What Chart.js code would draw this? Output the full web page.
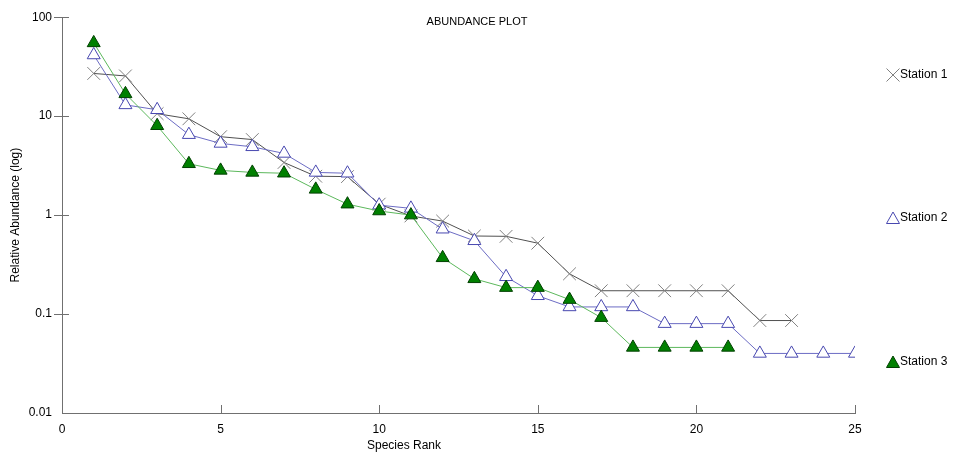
<!DOCTYPE html>
<html>
<head>
<meta charset="utf-8">
<script src="https://cdn.jsdelivr.net/npm/chart.js@4/dist/chart.umd.min.js"></script>
<style>
    html, body { margin: 0; padding: 0; background: #fff; }
    #wrap { width: 954px; height: 455px; position: relative; }
</style>
</head>
<body>
<div id="wrap"><canvas id="abundanceChart"></canvas></div>
<script>
// values (log scale)
const ranks = [1, 2, 3, 4, 5, 6, 7, 8, 9, 10, 11, 12, 13, 14, 15, 16, 17, 18, 19, 20, 21, 22, 23, 24, 25];
const station1 = [27, 25.5, 10.6, 9.4, 6.2, 5.8, 3.4, 2.47, 2.45, 1.29, 0.98, 0.87, 0.615, 0.61, 0.52, 0.255, 0.172, 0.172, 0.172, 0.172, 0.172, 0.086, 0.086];
const station2 = [41.5, 13, 11.6, 6.5, 5.3, 4.9, 4.2, 2.7, 2.65, 1.26, 1.17, 0.72, 0.55, 0.238, 0.153, 0.118, 0.118, 0.118, 0.08, 0.08, 0.08, 0.04, 0.04, 0.04, 0.04];
const station3 = [55, 16.8, 8.0, 3.3, 2.83, 2.7, 2.65, 1.82, 1.29, 1.1, 1.0, 0.37, 0.227, 0.185, 0.185, 0.14, 0.092, 0.046, 0.046, 0.046, 0.046];
const seriesNames = ["Station 1", "Station 2", "Station 3"];
const yTickValues = [0.01, 0.1, 1, 10, 100];
const xTickValues = [0, 5, 10, 15, 20, 25];

const FONT = "'Liberation Sans', Arial, sans-serif";

function toPoints(values) {
    return values.map((v, i) => ({ x: ranks[i], y: v }));
}

// title, x-axis title, inside tick marks and the right-hand legend
const extras = {
    id: "extras",
    afterDraw(chart) {
        const ctx = chart.ctx;
        const xs = chart.scales.x;
        const ys = chart.scales.y;
        const area = chart.chartArea;
        ctx.save();
        ctx.strokeStyle = "#707070";
        ctx.lineWidth = 1;
        xTickValues.forEach((v) => {
            if (v === 0) return;
            const px = Math.round(xs.getPixelForValue(v)) + 0.5;
            ctx.beginPath();
            ctx.moveTo(px, area.bottom);
            ctx.lineTo(px, area.bottom - 8);
            ctx.stroke();
        });
        yTickValues.forEach((v) => {
            if (v === 0.01) return;
            const py = Math.round(ys.getPixelForValue(v)) + 0.5;
            ctx.beginPath();
            ctx.moveTo(area.left - 8, py);
            ctx.lineTo(area.left + 7, py);
            ctx.stroke();
        });

        ctx.fillStyle = "#000";
        ctx.font = "11px " + FONT;
        ctx.textAlign = "center";
        ctx.textBaseline = "middle";
        ctx.fillText("ABUNDANCE PLOT", 477, 22);
        ctx.font = "12px " + FONT;
        ctx.fillText("Species Rank", 404, 446);

        // legend
        const legendY = [75, 218, 362];
        const lx = 893;
        // station 1: X
        ctx.strokeStyle = "#808080";
        ctx.beginPath();
        ctx.moveTo(lx - 6.5, legendY[0] - 6.5);
        ctx.lineTo(lx + 6.5, legendY[0] + 6.5);
        ctx.moveTo(lx + 6.5, legendY[0] - 6.5);
        ctx.lineTo(lx - 6.5, legendY[0] + 6.5);
        ctx.stroke();
        // station 2: open triangle
        ctx.strokeStyle = "#4848b0";
        ctx.fillStyle = "#fff";
        ctx.beginPath();
        ctx.moveTo(lx, legendY[1] - 6);
        ctx.lineTo(lx + 6.5, legendY[1] + 5.5);
        ctx.lineTo(lx - 6.5, legendY[1] + 5.5);
        ctx.closePath();
        ctx.fill();
        ctx.stroke();
        // station 3: filled triangle
        ctx.strokeStyle = "#004000";
        ctx.fillStyle = "#008000";
        ctx.beginPath();
        ctx.moveTo(lx, legendY[2] - 6);
        ctx.lineTo(lx + 6.5, legendY[2] + 5.5);
        ctx.lineTo(lx - 6.5, legendY[2] + 5.5);
        ctx.closePath();
        ctx.fill();
        ctx.stroke();

        ctx.fillStyle = "#000";
        ctx.textAlign = "left";
        seriesNames.forEach((name, i) => {
            ctx.fillText(name, lx + 7, legendY[i]);
        });
        ctx.restore();
    },
};

const ctxAbundance = document.getElementById("abundanceChart");
new Chart(ctxAbundance, {
    type: "line",
    data: {
        datasets: [
            {
                label: seriesNames[0],
                data: toPoints(station1),
                borderColor: "#505050",
                borderWidth: 1,
                pointStyle: "crossRot",
                pointRadius: 9,
                pointBorderColor: "#808080",
                pointBorderWidth: 1,
                order: 3,
            },
            {
                label: seriesNames[1],
                data: toPoints(station2),
                borderColor: "#6c6cc4",
                borderWidth: 1,
                pointStyle: "triangle",
                pointRadius: 7.5,
                pointBackgroundColor: "#ffffff",
                pointBorderColor: "#4848b0",
                pointBorderWidth: 1,
                order: 2,
            },
            {
                label: seriesNames[2],
                data: toPoints(station3),
                borderColor: "#5cb85c",
                borderWidth: 1,
                pointStyle: "triangle",
                pointRadius: 7.5,
                pointBackgroundColor: "#008000",
                pointBorderColor: "#004000",
                pointBorderWidth: 1,
                order: 1,
            },
        ],
    },
    options: {
        responsive: true,
        maintainAspectRatio: false,
        animation: false,
        layout: { padding: { top: 15, right: 99, bottom: 0, left: 0 } },
        plugins: {
            legend: { display: false },
            tooltip: { enabled: false },
        },
        elements: { line: { tension: 0 } },
        scales: {
            x: {
                type: "linear",
                min: 0,
                max: 25,
                afterFit: (s) => { s.height = 42; },
                afterBuildTicks: (s) => { s.ticks = xTickValues.map((v) => ({ value: v })); },
                grid: { display: false, drawTicks: false },
                border: { display: true, color: "#707070", width: 1 },
                ticks: { color: "#000", padding: 9, font: { family: FONT, size: 12 } },
            },
            y: {
                type: "logarithmic",
                min: 0.01,
                max: 100,
                afterFit: (s) => { s.width = 62; },
                afterBuildTicks: (s) => { s.ticks = yTickValues.map((v) => ({ value: v })); },
                grid: { display: false, drawTicks: false },
                border: { display: true, color: "#707070", width: 1 },
                ticks: {
                    color: "#000",
                    padding: 10,
                    font: { family: FONT, size: 12 },
                    callback: (v) => String(v),
                },
                title: {
                    display: true,
                    text: "Relative Abundance (log)",
                    color: "#000",
                    padding: { top: 8, bottom: 0 },
                    font: { family: FONT, size: 12 },
                },
            },
        },
    },
    plugins: [extras],
});
</script>
</body>
</html>
